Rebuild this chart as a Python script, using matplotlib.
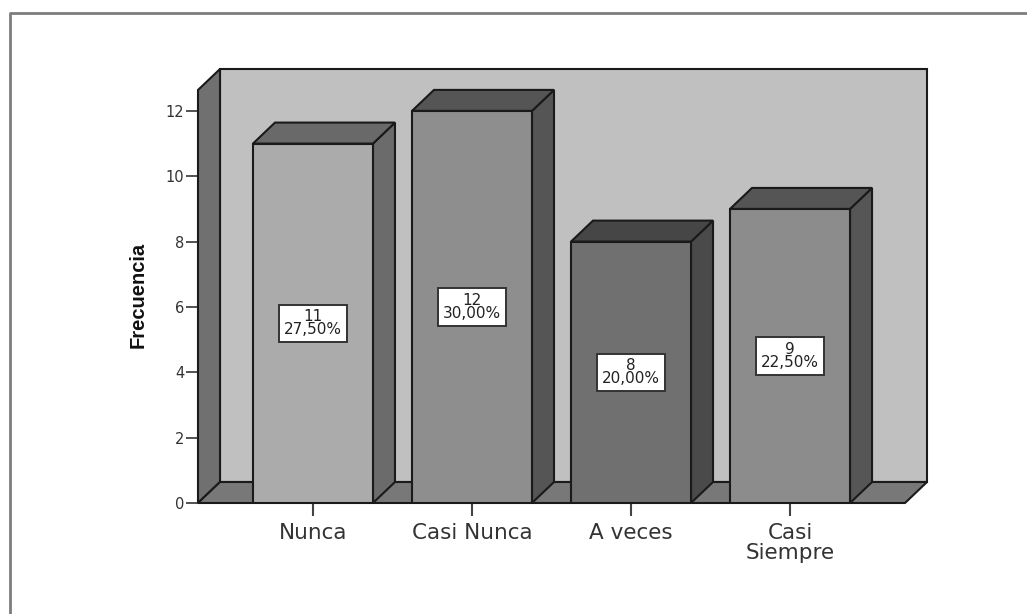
import matplotlib
matplotlib.use("Agg")
import matplotlib.pyplot as plt
from matplotlib.lines import Line2D
from matplotlib.patches import Polygon

categories = ["Nunca", "Casi Nunca", "A veces", "Casi\nSiempre"]
counts = [11, 12, 8, 9]
percents = ["27,50%", "30,00%", "20,00%", "22,50%"]
yticks = [0, 2, 4, 6, 8, 10, 12]

front_colors = ["#ababab", "#8e8e8e", "#707070", "#8c8c8c"]
top_colors = ["#696969", "#555555", "#464646", "#555555"]
side_colors = ["#6b6b6b", "#555555", "#4a4a4a", "#565656"]

W, H = 1027, 614
fig = plt.figure(figsize=(W / 100, H / 100), dpi=100, facecolor="white")
ax = fig.add_axes([198 / W, (H - 503) / H, 707 / W, 413 / H])
ax.set_facecolor("none")

xmin, xmax = -0.723, 3.723
ymin, ymax = 0, 12.64
ax.set_xlim(xmin, xmax)
ax.set_ylim(ymin, ymax)

# depth of the 3d look, in data units
dx = 22 / 159
dy = 21 / 32.67
bar_w = 120 / 159


def face(points, color, z, lw=1.5):
    ax.add_patch(Polygon(points, closed=True, facecolor=color, edgecolor="#1a1a1a",
                         lw=lw, joinstyle="miter", clip_on=False, zorder=z))


# back wall, left wall, floor
face([(xmin + dx, dy), (xmax + dx, dy), (xmax + dx, ymax + dy), (xmin + dx, ymax + dy)], "#c0c0c0", 1)
face([(xmin, 0), (xmin + dx, dy), (xmin + dx, ymax + dy), (xmin, ymax)], "#707070", 2)
face([(xmin, 0), (xmax, 0), (xmax + dx, dy), (xmin + dx, dy)], "#787878", 2)

for i, v in enumerate(counts):
    l = i - bar_w / 2
    r = i + bar_w / 2
    face([(r, 0), (r + dx, dy), (r + dx, v + dy), (r, v)], side_colors[i], 3)
    face([(l, v), (r, v), (r + dx, v + dy), (l + dx, v + dy)], top_colors[i], 3)
    ax.bar(i, v, width=bar_w, color=front_colors[i], edgecolor="#1a1a1a", lw=1.5, zorder=4)
    ax.text(i, v / 2, f"{v}\n{percents[i]}", ha="center", va="center", fontsize=11,
            color="#222222", linespacing=0.85, zorder=5,
            bbox=dict(boxstyle="square,pad=0.3", fc="white", ec="#333333", lw=1.4))

for s in ax.spines.values():
    s.set_visible(False)

ax.set_xticks(range(len(categories)))
ax.set_xticklabels(categories, fontsize=15.5, color="#333333", linespacing=1.02)
ax.set_yticks(yticks)
ax.tick_params(axis="x", length=9.5, width=1.5, color="#444444", pad=5)
ax.tick_params(axis="y", length=9, width=1.2, color="#333333", labelsize=10.5, labelcolor="#333333", pad=1)

fig.text(138 / W, 1 - 295 / H, "Frecuencia", rotation=90, ha="center", va="center",
         fontsize=14.5, fontweight="bold", color="#111111", family="Liberation Sans")

# outer frame, only top and left are drawn
fig.add_artist(Line2D([9.5 / W, 9.5 / W, 1], [0, 1 - 13 / H, 1 - 13 / H], color="#7d7d7d", lw=2))

fig.savefig("out.png", dpi=100)
